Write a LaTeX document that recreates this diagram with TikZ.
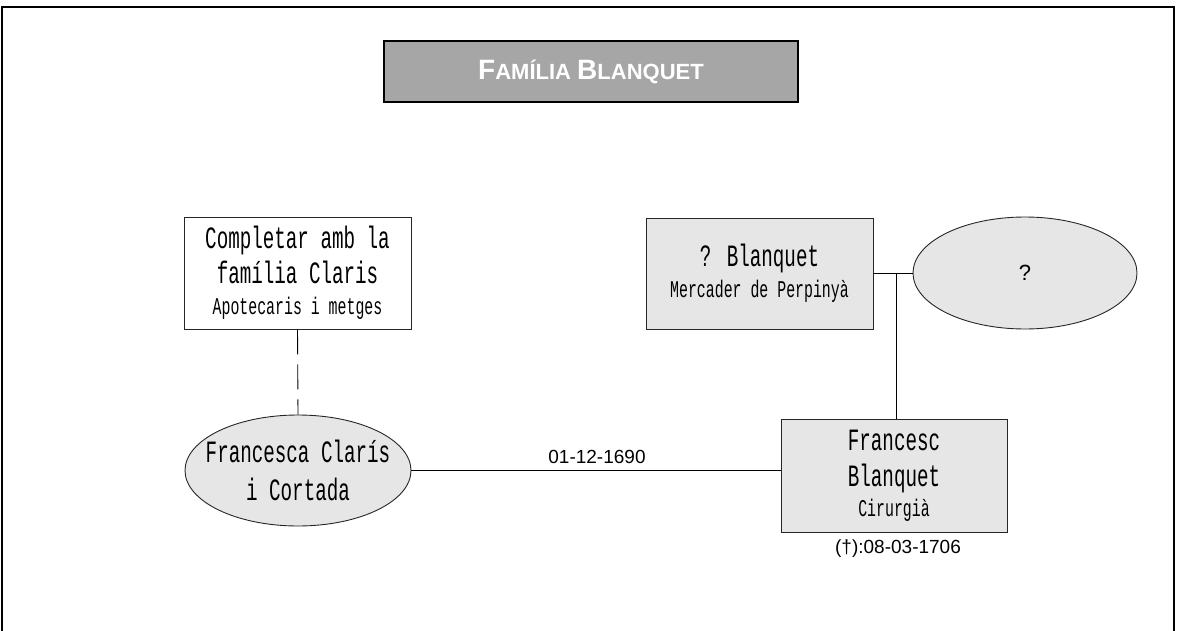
\documentclass[tikz,border=0pt]{standalone}
\usepackage{fontspec}
\usetikzlibrary{shapes.geometric,calc}
\newfontfamily\courfont[FakeStretch=0.62]{Liberation Mono}
\newfontfamily\arialfont{Liberation Sans}
\definecolor{boxgray}{HTML}{E6E6E6}
\definecolor{titlegray}{HTML}{A6A6A6}
\newcommand{\namefont}{\courfont\fontsize{31}{35}\selectfont}
\newcommand{\subfont}{\courfont\fontsize{24}{30}\selectfont}
\begin{document}
\begin{tikzpicture}[x=1pt,y=-1pt,line width=0.9pt,
  personbox/.style={draw=black!85,rectangle,inner sep=0pt,align=center,fill=boxgray,font=\namefont},
  blankbox/.style={draw=black!85,rectangle,inner sep=0pt,align=center,fill=white,font=\namefont},
  personell/.style={draw=black!85,ellipse,inner sep=-24pt,align=center,fill=boxgray,font=\namefont},
  datelabel/.style={font=\arialfont\fontsize{19}{22}\selectfont,inner sep=0pt}]
\useasboundingbox (0,0) rectangle (1177,631);
% outer frame (open at bottom)
\draw[line width=1.3pt] (2,640) -- (2,7) -- (1174,7) -- (1174,640);
% title
\node[draw=black,line width=2pt,fill=titlegray,minimum width=414pt,minimum height=61pt,inner sep=0pt,
  text=white,font=\arialfont\bfseries] (title) at (591,71.5)
  {\fontsize{28}{32}\selectfont F\fontsize{22}{32}\selectfont AMÍLIA \fontsize{28}{32}\selectfont B\fontsize{22}{32}\selectfont LANQUET};
% boxes
\node[blankbox,minimum width=227pt,minimum height=112pt] (comp) at (297.5,273)
  {Completar amb la\\família Claris\\[-4pt]{\subfont Apotecaris i metges}};
\node[personbox,minimum width=227pt,minimum height=111pt] (bl) at (759.5,273.5)
  {? Blanquet\\[-4pt]{\subfont Mercader de Perpinyà}};
\node[personell,minimum width=224pt,minimum height=112pt] (q) at (1025,273)
  {\arialfont\fontsize{22}{24}\selectfont ?};
\node[personell,minimum width=226pt,minimum height=111pt] (fc) at (298,470.5)
  {Francesca Clarís\\[3pt]i Cortada};
\node[personbox,minimum width=226pt,minimum height=113pt] (fb) at (894,475.5)
  {Francesc\\[1pt]Blanquet\\[-5pt]{\subfont Cirurgià}};
% connectors
\draw[dash pattern=on 25pt off 10pt] (comp.south) -- (fc.north);
\draw (bl.east) -- (bl.east -| q.west);
\coordinate (drop) at (896,273.5);
\draw (drop) -- (drop |- fb.north);
\draw (fc.east) -- (fc.east -| fb.west);
% labels
\node[datelabel] (wed) at (597,457) {01-12-1690};
\node[datelabel] (death) at (898,549) {(†):08-03-1706};
\end{tikzpicture}
\end{document}
